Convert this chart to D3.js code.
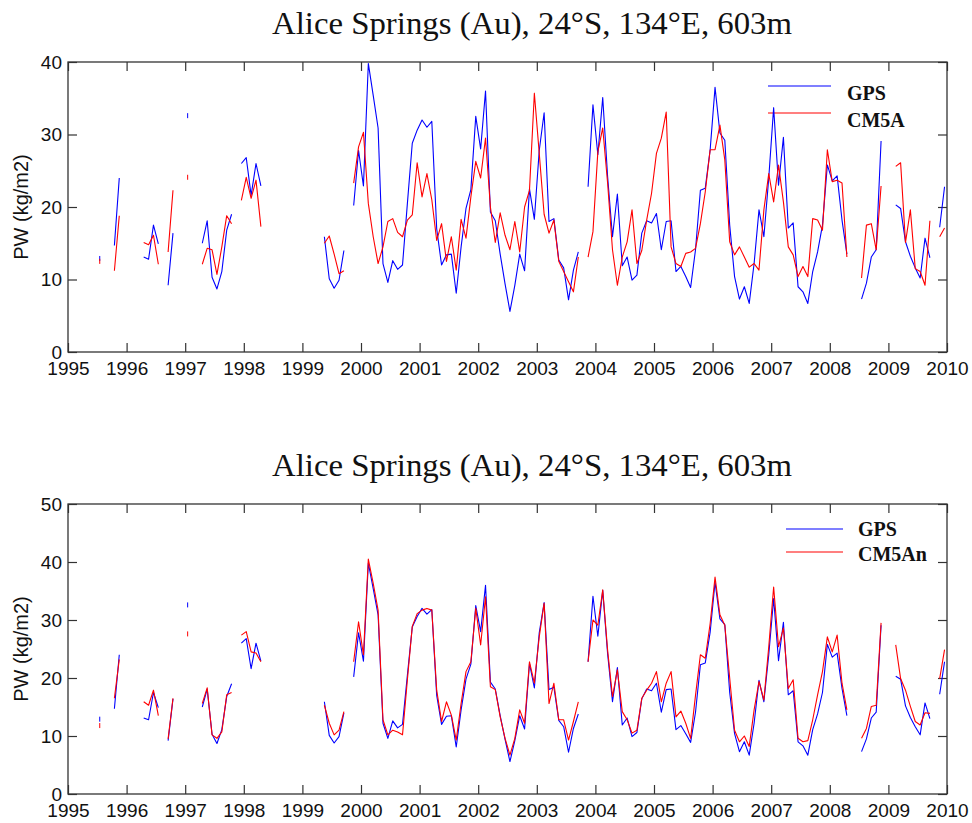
<!DOCTYPE html>
<html><head><meta charset="utf-8">
<script src="https://cdn.jsdelivr.net/npm/d3@7"></script>
<style>body{margin:0;background:#fff}svg{display:block}</style>
</head><body>
<svg id="chart" width="972" height="823"></svg>
<script>
// ---------- DATA (monthly, Jan 1995 .. Dec 2009; null = no data) ----------
const startYear = 1995;
const xTickValues = [1995,1996,1997,1998,1999,2000,2001,2002,2003,2004,2005,2006,2007,2008,2009,2010];
const xTickLabels = ["1995","1996","1997","1998","1999","2000","2001","2002","2003","2004","2005","2006","2007","2008","2009","2010"];
const yTicksTop = [0,10,20,30,40];
const yTicksBottom = [0,10,20,30,40,50];
const titleText = "Alice Springs (Au), 24°S, 134°E, 603m";
const yLabel = "PW (kg/m2)";
const legendTop = ["GPS","CM5A"];
const legendBottom = ["GPS","CM5An"];

const gps = [
  null,null,null,null,null,null,12.9,null,null,14.7,24.0,null,   // 1995
  null,null,null,13.1,12.8,17.5,14.9,null,9.2,16.4,null,null,    // 1996
  32.6,null,null,15.0,18.1,10.3,8.7,11.1,16.8,19.0,null,26.0,    // 1997
  26.8,21.6,26.0,22.9,null,null,null,null,null,null,null,null,   // 1998
  null,null,null,null,15.9,10.1,8.8,9.9,14.0,null,20.2,27.8,     // 1999
  22.9,39.8,35.4,30.9,12.2,9.6,12.6,11.4,12.0,20.5,28.8,30.6,    // 2000
  32.0,31.0,31.8,17.0,12.0,13.4,13.5,8.1,14.5,19.8,22.4,32.5,    // 2001
  28.0,36.0,19.3,18.1,13.5,9.4,5.6,9.2,13.5,11.2,22.5,18.3,      // 2002
  27.8,33.0,18.0,18.4,12.7,11.6,7.2,11.3,13.8,null,22.8,34.1,    // 2003
  27.2,35.1,24.2,15.9,21.8,11.9,13.1,9.9,10.6,16.4,18.1,17.8,    // 2004
  19.1,14.1,18.0,18.1,11.1,11.8,10.4,8.9,14.1,22.3,22.6,27.9,    // 2005
  36.5,30.2,29.2,17.5,10.4,7.3,9.0,6.7,12.2,19.6,15.9,24.0,      // 2006
  33.7,23.0,29.6,17.1,17.8,9.0,8.3,6.7,11.1,13.8,17.5,25.8,      // 2007
  23.6,24.3,18.2,13.5,null,null,7.3,9.5,13.1,14.1,29.1,null,     // 2008
  null,20.3,19.8,15.2,13.2,11.6,10.2,15.7,13.0,null,17.2,22.8    // 2009
];
const cm5a = [
  null,null,null,null,null,null,12.5,null,null,11.2,18.8,null,   // 1995
  null,null,null,15.1,14.8,16.1,12.1,null,13.8,22.3,null,null,   // 1996
  24.1,null,null,12.1,14.3,14.1,10.7,14.5,18.8,17.7,null,20.9,   // 1997
  24.1,21.2,23.7,17.3,null,null,null,null,null,null,null,null,   // 1998
  null,null,null,null,15.0,16.0,13.5,10.8,11.2,null,23.3,28.3,   // 1999
  30.3,20.5,15.9,12.2,14.5,18.0,18.4,16.5,15.9,18.2,18.9,26.1,   // 2000
  21.4,24.6,21.0,15.4,17.7,12.5,15.9,11.3,18.3,15.7,21.4,26.3,   // 2001
  24.0,29.5,20.0,15.1,19.2,16.1,14.1,18.0,13.8,20.0,22.3,35.7,   // 2002
  27.4,19.0,16.4,18.2,12.5,11.1,9.7,8.3,13.1,null,13.1,16.6,     // 2003
  27.6,30.9,23.3,14.1,9.2,13.1,15.2,19.6,12.2,14.0,18.2,21.9,    // 2004
  27.4,29.5,33.1,14.5,12.2,11.8,13.6,13.8,14.3,17.7,22.1,27.9,   // 2005
  27.9,31.3,26.5,15.2,13.4,14.5,13.1,11.7,12.2,11.3,19.6,24.6,   // 2006
  20.7,25.8,20.7,14.5,13.4,10.4,11.8,10.4,18.4,18.2,16.8,27.9,   // 2007
  23.5,23.7,23.3,13.1,null,null,10.2,17.5,17.7,14.1,22.9,null,   // 2008
  null,25.6,26.1,15.1,19.6,11.5,11.1,9.2,18.1,null,15.9,17.1     // 2009
];
const cm5an = [
  null,null,null,null,null,null,11.8,null,null,16.5,23.2,null,   // 1995
  null,null,null,15.9,15.3,17.9,13.5,null,9.5,16.5,null,null,    // 1996
  27.6,null,null,15.6,18.3,10.2,9.6,10.7,17.1,17.5,null,27.4,    // 1997
  28.0,24.5,24.3,22.8,null,null,null,null,null,null,null,null,   // 1998
  null,null,null,null,15.3,12.2,10.2,11.0,14.2,null,22.8,29.7,   // 1999
  24.0,40.5,36.3,31.7,12.8,10.2,11.0,10.7,10.2,19.7,28.9,31.1,   // 2000
  31.7,32.0,31.7,17.9,12.5,15.9,13.6,9.3,15.6,21.1,22.8,32.0,    // 2001
  25.7,34.0,18.5,18.0,13.3,9.6,6.7,9.6,14.5,12.2,22.8,19.1,      // 2002
  27.1,32.9,15.6,19.1,12.8,12.8,9.3,12.5,15.9,null,22.8,30.0,    // 2003
  29.1,35.2,24.8,16.8,21.4,14.2,12.8,10.5,11.0,16.5,17.9,19.1,   // 2004
  21.1,15.9,19.1,21.1,13.3,14.3,12.2,9.6,17.0,24.0,23.4,29.4,    // 2005
  37.4,30.9,29.1,20.0,11.0,9.0,10.0,8.2,14.5,19.4,16.2,25.4,     // 2006
  35.7,25.4,28.6,18.2,19.7,9.6,9.0,9.2,12.8,17.1,21.1,27.1,      // 2007
  24.5,27.4,19.1,14.5,null,null,9.6,11.3,15.1,15.3,29.5,null,    // 2008
  null,25.7,19.9,17.9,15.1,12.5,11.9,14.0,13.9,null,19.9,24.9    // 2009
];

// ---------- DRAWING ----------
const svg = d3.select("#chart");
const sansFont = "'Liberation Sans', Arial, Helvetica, sans-serif";
const serifFont = "'Liberation Serif', 'Times New Roman', serif";
const axisColor = "#333";
const blue = "#0000ff", red = "#ff0000";

const x = d3.scaleLinear().domain([1995, 2010]).range([68, 947]);
const monthTime = i => startYear + (i + 0.5) / 12;

const panels = [
  { top: 62, bottom: 352, yMax: 40, ticks: yTicksTop, series: [gps, cm5a], names: legendTop,
    titleY: 34, legX1: 768, legX2: 831, legY: [86, 113], legTextX: 847, legTextY: [99.5, 127] },
  { top: 504, bottom: 794, yMax: 50, ticks: yTicksBottom, series: [gps, cm5an], names: legendBottom,
    titleY: 475.5, legX1: 786, legX2: 843, legY: [529, 552], legTextX: 858, legTextY: [535.5, 561] }
];

function styleAxis(sel) {
  sel.select(".domain").remove();
  sel.selectAll(".tick line").attr("stroke", axisColor).attr("stroke-width", 1.2);
  sel.selectAll(".tick text").attr("font-family", sansFont).attr("font-size", 19).attr("fill", "#111");
}

panels.forEach(p => {
  const y = d3.scaleLinear().domain([0, p.yMax]).range([p.bottom, p.top]);
  const g = svg.append("g");

  // title
  g.append("text")
    .attr("x", 272).attr("y", p.titleY)
    .attr("font-family", serifFont).attr("font-size", 32)
    .attr("textLength", 520).attr("lengthAdjust", "spacingAndGlyphs")
    .attr("fill", "#111")
    .text(titleText);

  // axes (ticks inward on all four sides)
  g.append("g").attr("transform", `translate(0,${p.bottom})`)
    .call(d3.axisBottom(x).tickValues(xTickValues).tickFormat((d, i) => xTickLabels[i])
      .tickSizeInner(-9).tickSizeOuter(0).tickPadding(9.5))
    .call(styleAxis);
  g.append("g").attr("transform", `translate(0,${p.top})`)
    .call(d3.axisTop(x).tickValues(xTickValues).tickFormat("").tickSizeInner(-9).tickSizeOuter(0))
    .call(styleAxis);
  g.append("g").attr("transform", `translate(${x.range()[0]},0)`)
    .call(d3.axisLeft(y).tickValues(p.ticks).tickFormat(d3.format("d"))
      .tickSizeInner(-9).tickSizeOuter(0).tickPadding(6))
    .call(styleAxis);
  g.append("g").attr("transform", `translate(${x.range()[1]},0)`)
    .call(d3.axisRight(y).tickValues(p.ticks).tickFormat("").tickSizeInner(-9).tickSizeOuter(0))
    .call(styleAxis);

  // frame
  g.append("rect")
    .attr("x", x.range()[0]).attr("y", p.top)
    .attr("width", x.range()[1] - x.range()[0]).attr("height", p.bottom - p.top)
    .attr("fill", "none").attr("stroke", axisColor).attr("stroke-width", 1.3);

  // y label
  g.append("text")
    .attr("transform", `translate(28,${(p.top + p.bottom) / 2}) rotate(-90)`)
    .attr("text-anchor", "middle")
    .attr("font-family", sansFont).attr("font-size", 20).attr("fill", "#111")
    .text(yLabel);

  // legend
  const colors = [blue, red];
  p.names.forEach((name, k) => {
    g.append("line")
      .attr("x1", p.legX1).attr("x2", p.legX2).attr("y1", p.legY[k]).attr("y2", p.legY[k])
      .attr("stroke", colors[k]).attr("stroke-width", 1.1);
    g.append("text")
      .attr("x", p.legTextX).attr("y", p.legTextY[k])
      .attr("font-family", serifFont).attr("font-weight", "bold").attr("font-size", 20)
      .attr("fill", "#111").text(name);
  });

  // series
  p.series.forEach((vals, k) => {
    const data = vals.map((v, i) => ({ t: monthTime(i), v }));
    const line = d3.line().defined(d => d.v != null).x(d => x(d.t)).y(d => y(d.v));
    g.append("path").datum(data)
      .attr("fill", "none").attr("stroke", colors[k]).attr("stroke-width", 1.1)
      .attr("stroke-linejoin", "round")
      .attr("d", line);
    // isolated single months drawn as tiny ticks
    const isolated = data.filter((d, i) => d.v != null &&
      (i === 0 || vals[i - 1] == null) && (i === vals.length - 1 || vals[i + 1] == null));
    g.selectAll(null).data(isolated).enter().append("line")
      .attr("x1", d => x(d.t)).attr("x2", d => x(d.t))
      .attr("y1", d => y(d.v) - 2.5).attr("y2", d => y(d.v) + 2.5)
      .attr("stroke", colors[k]).attr("stroke-width", 1);
  });
});
</script>
</body></html>
